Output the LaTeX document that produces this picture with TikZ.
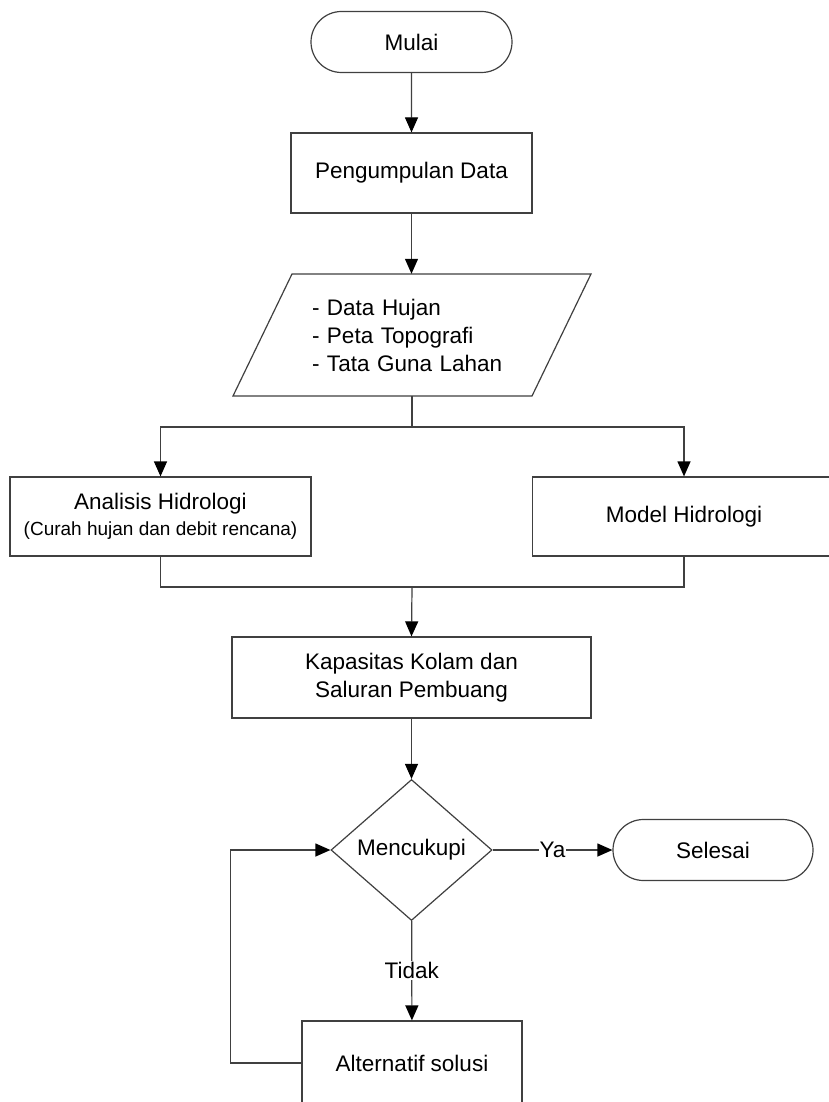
\documentclass[tikz,border=0pt]{standalone}
\usepackage{fontspec}
\setmainfont{Liberation Sans}
\usetikzlibrary{shapes.geometric,shapes.misc,arrows.meta,calc}
\begin{document}
\begin{tikzpicture}[x=1pt,y=-1pt,
  every node/.style={font=\fontsize{22.5}{28}\selectfont, inner sep=0pt},
  ln/.style={draw=black!75, line width=1.2pt},
  arr/.style={ln, -{Triangle[length=15pt,width=13pt,black]}},
  term/.style={ln, rounded rectangle, minimum width=201pt, minimum height=61pt, fill=white},
  proc/.style={ln, rectangle, fill=white},
  decision/.style={ln, diamond, minimum width=161pt, minimum height=141pt, fill=white},
  lbl/.style={fill=white, inner sep=1pt}
]
\useasboundingbox (0,0) rectangle (828,1102);
\fill[white] (0,0) rectangle (828,1102);

\node[term] (start) at (411.5,42) {Mulai};
\node[proc, minimum width=241pt, minimum height=80pt] (collect) at (411.5,173) {Pengumpulan Data};
% data (parallelogram)
\draw[ln] (292,274) -- (591,274) -- (532,396) -- (233,396) -- cycle;
\node[text width=200pt, align=left, minimum height=122pt] (data) at (412,335)
  {- Data Hujan\\- Peta Topografi\\- Tata Guna Lahan};
\coordinate (split) at (412,427);
\node[proc, minimum width=301pt, minimum height=79pt, align=center] (ana) at (160.5,516.5)
  {Analisis Hidrologi\\[-2pt]{\fontsize{19}{24}\selectfont (Curah hujan dan debit rencana)}};
\node[proc, minimum width=303pt, minimum height=79pt] (mod) at (684,516.5) {Model Hidrologi};
\coordinate (merge) at (412,587);
\node[proc, minimum width=359pt, minimum height=81pt, align=center] (kap) at (411.5,677.5)
  {Kapasitas Kolam dan\\Saluran Pembuang};
\node[decision] (dec) at (411.5,850) {Mencukupi};
\node[term, minimum width=200pt] (end) at (713,850) {Selesai};
\node[proc, minimum width=220pt, minimum height=84pt] (alt) at (412,1063) {Alternatif solusi};

\draw[arr] (start) -- (collect);
\draw[arr] (collect) -- (collect |- data.north);
\draw[ln] (data.south) -- (split);
\draw[arr] (split) -| (ana.north);
\draw[arr] (split) -| (mod.north);
\draw[ln] (ana.south) |- (merge) -| (mod.south);
\draw[arr] (merge) -- (kap.north);
\draw[arr] (kap) -- (dec);
\draw[arr] (dec) -- node[lbl] {Ya} (end);
\draw[arr] (dec) -- node[lbl] {Tidak} (alt);
\draw[arr] (alt.west) -- ++(-71pt,0) |- (dec.west);
\end{tikzpicture}
\end{document}
